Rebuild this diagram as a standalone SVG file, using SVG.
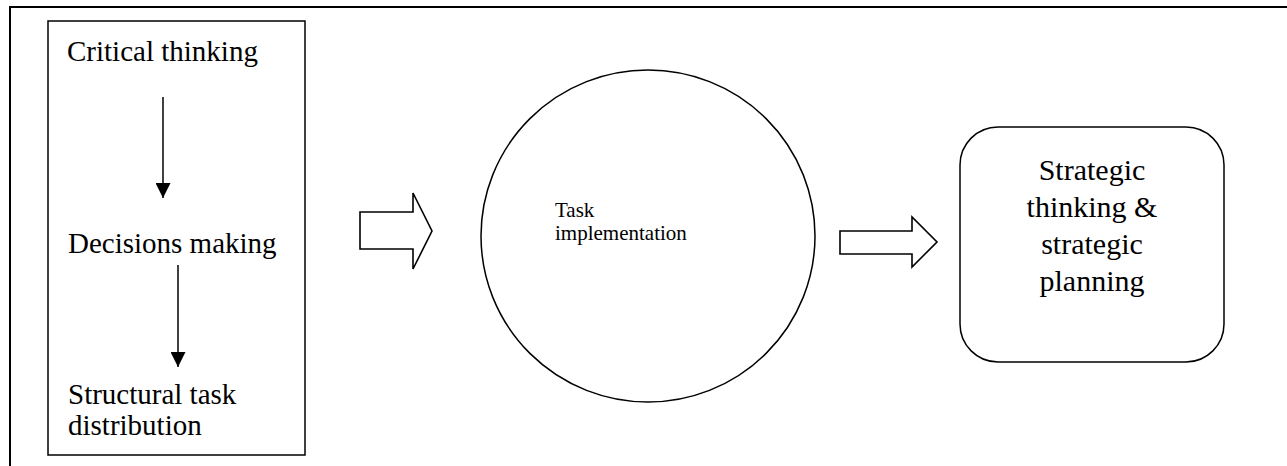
<svg xmlns="http://www.w3.org/2000/svg" width="1287" height="466" viewBox="0 0 1287 466">
<style>
.t{font-family:"Liberation Serif","Times New Roman",serif;fill:#000}
.s{fill:none;stroke:#000;stroke-width:1.5}
.blk{fill:#fff;stroke:#000;stroke-width:1.6;stroke-linejoin:miter}
</style>
<defs>
<marker id="ah" markerWidth="15" markerHeight="15" refX="15" refY="7.5" orient="auto" markerUnits="userSpaceOnUse">
<path d="M0,0 L15,7.5 L0,15 Z" fill="#000"/>
</marker>
</defs>
<rect width="1287" height="466" fill="#fff"/>
<g id="frame">
<path d="M10,466 L10,7 L1287,7" fill="none" stroke="#000" stroke-width="2"/>
</g>
<g id="left-box">
<rect x="48" y="21" width="257" height="434" class="s"/>
<text class="t" x="67" y="61" font-size="29">Critical thinking</text>
<text class="t" x="68" y="253" font-size="29">Decisions making</text>
<text class="t" x="68" y="404" font-size="29">Structural task</text>
<text class="t" x="68" y="435" font-size="29">distribution</text>
</g>
<g id="task-implementation">
<ellipse cx="648" cy="236" rx="167" ry="166" class="s"/>
<text class="t" x="555" y="217" font-size="21">Task</text>
<text class="t" x="555" y="240" font-size="21">implementation</text>
</g>
<g id="strategic">
<rect x="960" y="127" width="264" height="235" rx="38" ry="38" class="s"/>
<text class="t" x="1092" font-size="30" text-anchor="middle"><tspan x="1092" y="180">Strategic</tspan><tspan x="1092" y="217">thinking &amp;</tspan><tspan x="1092" y="254">strategic</tspan><tspan x="1092" y="291">planning</tspan></text>
</g>
<g id="connectors">
<line x1="163" y1="97" x2="163" y2="198" class="s" marker-end="url(#ah)"/>
<line x1="178" y1="265" x2="178" y2="367" class="s" marker-end="url(#ah)"/>
<polygon class="blk" points="360,212 413,212 413,193 432,231 413,269 413,249 360,249"/>
<polygon class="blk" points="840,231 912,231 912,217 937,242 912,267 912,254 840,254"/>
</g>
</svg>
